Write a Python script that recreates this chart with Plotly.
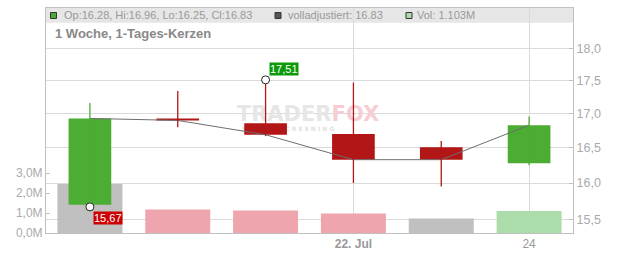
import math
import plotly.graph_objects as go

# ---- data ----
days = ["17. Jul", "18. Jul", "19. Jul", "22. Jul", "23. Jul", "24. Jul"]
opens = [15.70, 16.93, 16.86, 16.70, 16.51, 16.28]
highs = [17.16, 17.34, 17.51, 17.47, 16.60, 16.96]
lows = [15.67, 16.80, 16.67, 16.00, 15.95, 16.25]
closes = [16.93, 16.90, 16.69, 16.33, 16.33, 16.83]
volume_m = [2.45, 1.18, 1.13, 0.98, 0.73, 1.103]
volume_colors = ["#c0c0c0", "#eea5ad", "#eea5ad", "#eea5ad", "#c0c0c0", "#acdcaa"]

price_ticks = [15.5, 16.0, 16.5, 17.0, 17.5, 18.0]
price_ticktext = ["15,5", "16,0", "16,5", "17,0", "17,5", "18,0"]
vol_ticks = [0, 1, 2, 3]
vol_ticktext = ["0,0M", "1,0M", "2,0M", "3,0M"]
x_tick_days = ["22. Jul", "24. Jul"]
x_ticktext = ["<b>22. Jul</b>", "24"]

legend_ohlc = "Op:16.28, Hi:16.96, Lo:16.25, Cl:16.83"
legend_adj = "volladjustiert: 16.83"
legend_vol = "Vol: 1.103M"
title_text = "1 Woche, 1-Tages-Kerzen"
watermark_main = "<b><span style='color:#e6e6e6'>TRADER</span><span style='color:#f6cdd2'>FOX</span></b>"
watermark_sub = "<b>S T O C K   S C R E E N I N G</b>"

GREEN = "#4bad33"
RED = "#b21616"
FONT = "Liberation Sans, Arial, sans-serif"
GRID = "#dadada"
AXIS = "#c0c0c0"

W, H = 632, 253
ML, MR, MT, MB = 46, 59, 8, 20
PW = W - ML - MR
PH = H - MT - MB
VOL_MAX = 11.25
X0, X1 = -0.5, 5.5

xi = list(range(len(days)))  # slot index of each trading day


def fx(px):
    return (px - ML) / PW


def fy(py):
    return (H - MB - py) / PH


def data_x(px):
    return X0 + (px - ML) / PW * (X1 - X0)


def vol_y(py):
    return (H - MB - py) / PH * VOL_MAX


fig = go.Figure()

# watermark (as a text trace so it sits beneath the marks)
fig.add_trace(go.Scatter(x=[data_x(308), data_x(288)], y=[vol_y(116), vol_y(129.5)], mode="text",
                         text=[watermark_main, watermark_sub],
                         textfont=dict(family="DejaVu Sans", size=[21, 6], color=["#e6e6e6", "#e0e0e0"]),
                         yaxis="y", hoverinfo="skip", showlegend=False))

# volume bars (base axis)
fig.add_trace(go.Bar(x=xi, y=volume_m, width=0.74, marker=dict(color=volume_colors, line=dict(width=0)),
                     yaxis="y", hoverinfo="skip", showlegend=False))

# close line
fig.add_trace(go.Scatter(x=xi, y=closes, mode="lines", line=dict(color="#6e6e6e", width=1),
                         yaxis="y2", hoverinfo="skip", showlegend=False))

# wicks
for i in xi:
    col = GREEN if closes[i] >= opens[i] else RED
    fig.add_trace(go.Scatter(x=[i, i], y=[lows[i], highs[i]], mode="lines",
                             line=dict(color=col, width=1.3), yaxis="y2",
                             hoverinfo="skip", showlegend=False))

# bodies
body_base = [min(o, c) for o, c in zip(opens, closes)]
body_len = [abs(c - o) for o, c in zip(opens, closes)]
body_col = [GREEN if c >= o else RED for o, c in zip(opens, closes)]
fig.add_trace(go.Bar(x=xi, y=body_len, base=body_base, width=0.486,
                     marker=dict(color=body_col, line=dict(width=0)),
                     yaxis="y2", hoverinfo="skip", showlegend=False))

# high / low markers
hi_i = max(xi, key=lambda i: highs[i])
lo_i = min(xi, key=lambda i: lows[i])
fig.add_trace(go.Scatter(x=[hi_i, lo_i], y=[highs[hi_i], lows[lo_i]], mode="markers",
                         marker=dict(size=8, color="white", line=dict(color="#222", width=1)),
                         yaxis="y2", hoverinfo="skip", showlegend=False))

annotations = []
annotations.append(dict(x=hi_i, y=math.log10(highs[hi_i]), xref="x", yref="y2",
                        text=f"{highs[hi_i]:.2f}".replace(".", ","), showarrow=False,
                        xanchor="left", yanchor="bottom", xshift=3, yshift=4,
                        bgcolor="#0a9a0a", borderpad=0,
                        font=dict(family=FONT, size=11, color="white")))
annotations.append(dict(x=lo_i, y=math.log10(lows[lo_i]), xref="x", yref="y2",
                        text=f"{lows[lo_i]:.2f}".replace(".", ","), showarrow=False,
                        xanchor="left", yanchor="top", xshift=3, yshift=-4,
                        bgcolor="#cc0000", borderpad=0,
                        font=dict(family=FONT, size=11, color="white")))

# header legend
annotations.append(dict(x=fx(62), y=fy(15.5), xref="paper", yref="paper", showarrow=False,
                        xanchor="left", yanchor="middle", text=legend_ohlc,
                        font=dict(family=FONT, size=11, color="#999999")))
annotations.append(dict(x=fx(285.5), y=fy(15.5), xref="paper", yref="paper", showarrow=False,
                        xanchor="left", yanchor="middle", text=legend_adj,
                        font=dict(family=FONT, size=11, color="#999999")))
annotations.append(dict(x=fx(415), y=fy(15.5), xref="paper", yref="paper", showarrow=False,
                        xanchor="left", yanchor="middle", text=legend_vol,
                        font=dict(family=FONT, size=11, color="#999999")))
annotations.append(dict(x=fx(52.5), y=fy(33), xref="paper", yref="paper", showarrow=False,
                        xanchor="left", yanchor="middle", text="<b>" + title_text + "</b>",
                        font=dict(family=FONT, size=13, color="#888888")))

shapes = [
    dict(type="rect", xref="paper", yref="paper", x0=0, x1=1, y0=fy(22.7), y1=1,
         fillcolor="#e6e6e6", line=dict(width=0), layer="below"),
    dict(type="rect", xref="paper", yref="paper", x0=fx(50.5), x1=fx(56.5), y0=fy(18.5), y1=fy(12.5),
         fillcolor=GREEN, line=dict(color="#333", width=1)),
    dict(type="rect", xref="paper", yref="paper", x0=fx(275), x1=fx(281), y0=fy(18.5), y1=fy(12.5),
         fillcolor="#555555", line=dict(color="#333", width=1)),
    dict(type="rect", xref="paper", yref="paper", x0=fx(406), x1=fx(412), y0=fy(18.5), y1=fy(12.5),
         fillcolor="#acdcaa", line=dict(color="#333", width=1)),
]

fig.update_layout(
    width=W, height=H,
    margin=dict(l=ML, r=MR, t=MT, b=MB, pad=0, autoexpand=False),
    paper_bgcolor="white", plot_bgcolor="white",
    showlegend=False, barmode="overlay",
    font=dict(family=FONT, color="#999999"),
    xaxis=dict(range=[X0, X1], tickvals=[days.index(d) for d in x_tick_days], ticktext=x_ticktext,
               showgrid=True, gridcolor=GRID, zeroline=False,
               showline=True, linecolor=AXIS, mirror=True, ticks="", automargin=False,
               tickfont=dict(family=FONT, size=12, color="#999999"), fixedrange=True),
    yaxis=dict(range=[0, VOL_MAX], side="left", tickvals=vol_ticks, ticktext=vol_ticktext,
               showgrid=False, zeroline=False, showline=True, linecolor=AXIS,
               ticks="inside", ticklen=4, tickcolor=AXIS, automargin=False,
               tickfont=dict(family=FONT, size=12, color="#aaaaaa")),
    yaxis2=dict(type="log", range=[1.185141, 1.270589], overlaying="y", side="right",
                tickvals=price_ticks, ticktext=price_ticktext, showgrid=True, gridcolor=GRID,
                zeroline=False, showline=True, linecolor=AXIS, automargin=False,
                ticks="inside", ticklen=4, tickcolor=AXIS,
                tickfont=dict(family=FONT, size=12.5, color="#aaaaaa")),
    annotations=annotations,
    shapes=shapes,
)

fig.write_html("out.html")
